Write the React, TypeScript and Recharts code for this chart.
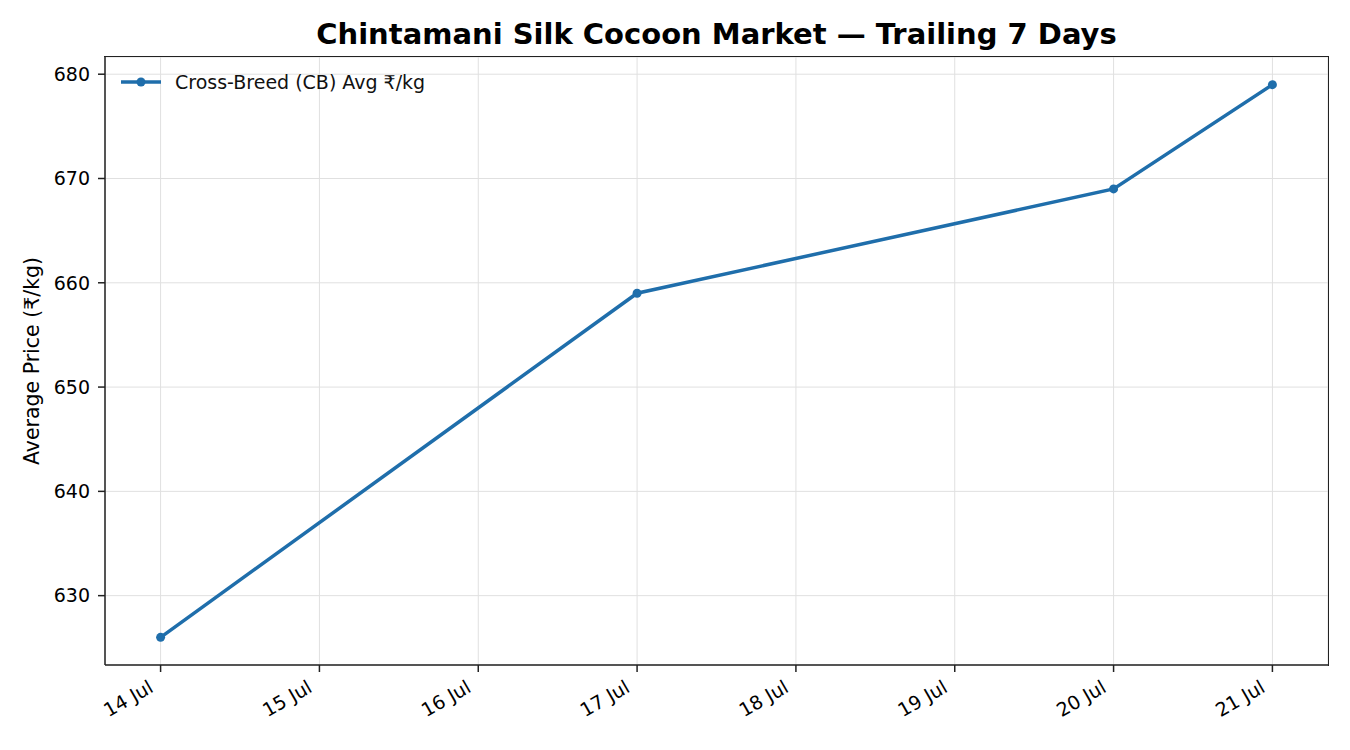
import React from 'react';
import { LineChart, Line, XAxis, YAxis, CartesianGrid } from 'recharts';

// days of July and the CB average price (₹/kg)
const DAYS = [14, 17, 20, 21];
const PRICES = [626, 659, 669, 679];
const X_TICKS = [14, 15, 16, 17, 18, 19, 20, 21];
const Y_TICKS = [630, 640, 650, 660, 670, 680];

const BLUE = '#1f6eab';
const FONT = '"DejaVu Sans", sans-serif';

const data = DAYS.map((d, i) => ({ day: d, price: PRICES[i] }));

function DayTick(props: any) {
  const { x, y, payload } = props;
  return (
    <g transform={`translate(${x - 6},${y + 17})`}>
      <text transform="rotate(-30)" textAnchor="end" fontSize={19} fontFamily={FONT} fill="#000">
        {`${payload.value} Jul`}
      </text>
    </g>
  );
}

function LegendBox() {
  return (
    <div
      style={{
        position: 'absolute',
        left: 119,
        top: 70,
        display: 'flex',
        alignItems: 'center',
        fontFamily: FONT,
        fontSize: 19,
        color: '#111',
        lineHeight: '24px',
      }}
    >
      <svg width={44} height={14} style={{ marginRight: 12 }}>
        <line x1={2} y1={7} x2={42} y2={7} stroke={BLUE} strokeWidth={3.5} />
        <circle cx={22} cy={7} r={4.5} fill={BLUE} />
      </svg>
      <span>Cross-Breed (CB) Avg ₹/kg</span>
    </div>
  );
}

export default function App() {
  return (
    <div style={{ position: 'absolute', left: 0, top: 0, width: 1350, height: 750, background: '#fff' }}>
      <div
        style={{
          position: 'absolute',
          left: 105,
          width: 1223,
          top: 16,
          textAlign: 'center',
          fontFamily: FONT,
          fontWeight: 'bold',
          fontSize: 29,
          color: '#000',
          lineHeight: '36px',
        }}
      >
        Chintamani Silk Cocoon Market — Trailing 7 Days
      </div>
      <LineChart
        width={1350}
        height={750}
        data={data}
        margin={{ top: 57, right: 22, bottom: 0, left: 45 }}
      >
        <CartesianGrid stroke="#e0e0e0" strokeWidth={1} />
        <XAxis
          dataKey="day"
          type="number"
          domain={[13.65, 21.35]}
          ticks={X_TICKS}
          allowDataOverflow
          interval={0}
          height={85}
          tick={<DayTick />}
          tickLine={{ stroke: '#222', strokeWidth: 1.5 }}
          tickSize={7}
          axisLine={{ stroke: '#222', strokeWidth: 1.5 }}
        />
        <YAxis
          type="number"
          domain={[623.35, 681.65]}
          ticks={Y_TICKS}
          allowDataOverflow
          width={60}
          tick={{ fontSize: 19, fontFamily: FONT, fill: '#000' }}
          tickLine={{ stroke: '#222', strokeWidth: 1.5 }}
          tickSize={7}
          tickMargin={8}
          axisLine={{ stroke: '#222', strokeWidth: 1.5 }}
          label={{
            value: 'Average Price (₹/kg)',
            angle: -90,
            position: 'insideLeft',
            offset: -13,
            style: { textAnchor: 'middle', fontSize: 20.5, fontFamily: FONT, fill: '#000' },
          }}
        />
        <Line
          dataKey="price"
          stroke={BLUE}
          strokeWidth={3.5}
          dot={{ r: 4.5, fill: BLUE, stroke: BLUE, strokeWidth: 0 }}
          isAnimationActive={false}
        />
      </LineChart>
      {/* axes frame: top and right spines */}
      <div
        style={{
          position: 'absolute',
          left: 104,
          top: 56,
          width: 1224,
          height: 609,
          borderTop: '1.5px solid #222',
          borderRight: '1.5px solid #222',
          pointerEvents: 'none',
        }}
      />
      <LegendBox />
    </div>
  );
}
